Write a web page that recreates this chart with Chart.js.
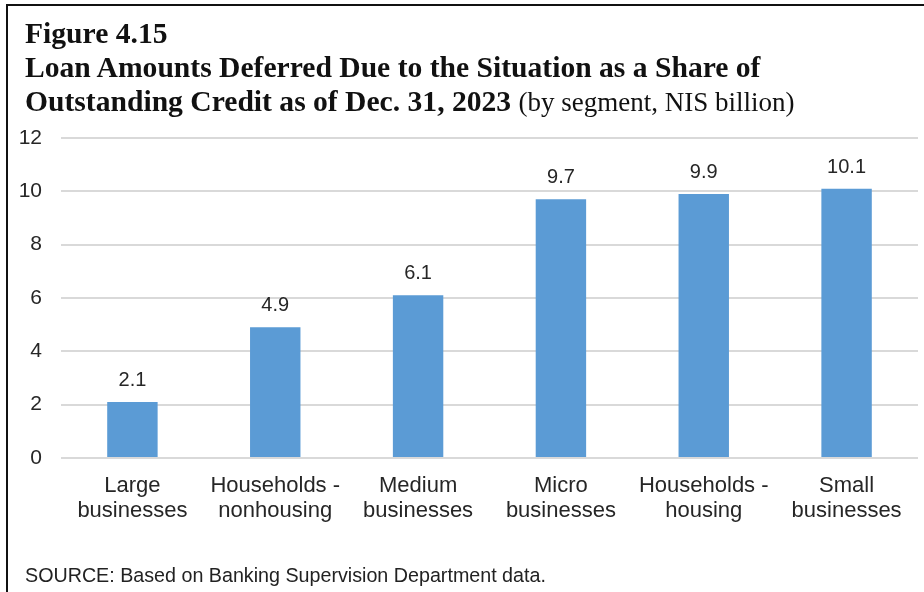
<!DOCTYPE html>
<html>
<head>
<meta charset="utf-8">
<script src="https://cdn.jsdelivr.net/npm/chart.js@4.4.1/dist/chart.umd.min.js"></script>
<style>
  html, body { margin: 0; padding: 0; background: #fff; }
  #wrap { position: relative; width: 924px; height: 592px; overflow: hidden; }
  #frame { position: absolute; left: 6px; top: 4px; right: -4px; bottom: -4px;
           border-top: 2px solid #111; border-left: 2px solid #111; }
  #title { position: absolute; left: 25px; top: 16px; font-family: "Liberation Serif", "Times New Roman", serif;
           font-size: 29.6px; line-height: 34px; color: #111; font-weight: bold; white-space: nowrap; }
  #title .unit { font-weight: normal; font-size: 27px; }
  #source { position: absolute; left: 25px; top: 565px; font-family: "Liberation Sans", Arial, sans-serif;
            font-size: 19.7px; line-height: 20px; color: #222; white-space: nowrap; }
  #chart { position: absolute; left: 0; top: 0; }
</style>
</head>
<body>
<div id="wrap">
  <canvas id="chart" width="924" height="592"></canvas>
  <div id="frame"></div>
  <div id="title">
    Figure 4.15<br>
    Loan Amounts Deferred Due to the Situation as a Share of<br>
    Outstanding Credit as of Dec. 31, 2023 <span class="unit">(by segment, NIS billion)</span>
  </div>
  <div id="source">SOURCE: Based on Banking Supervision Department data.</div>
</div>
<script>
// segments, shown as two-line axis labels
const segments = [
  ['Large', 'businesses'],
  ['Households -', 'nonhousing'],
  ['Medium', 'businesses'],
  ['Micro', 'businesses'],
  ['Households -', 'housing'],
  ['Small', 'businesses']
];
// deferred amounts, NIS billion
const deferred = [2.1, 4.9, 6.1, 9.7, 9.9, 10.1];
const yTicks = [0, 2, 4, 6, 8, 10, 12];

const sans = '"Liberation Sans", Arial, sans-serif';

// writes each bar's value above it
const valueLabels = {
  id: 'valueLabels',
  afterDatasetsDraw(chart) {
    const ctx = chart.ctx;
    const meta = chart.getDatasetMeta(0);
    ctx.save();
    ctx.font = '20px ' + sans;
    ctx.fillStyle = '#262626';
    ctx.textAlign = 'center';
    ctx.textBaseline = 'alphabetic';
    meta.data.forEach((bar, i) => {
      ctx.fillText(deferred[i].toFixed(1), bar.x, bar.y - 16);
    });
    ctx.restore();
  }
};

document.addEventListener('DOMContentLoaded', function() {
  const ctx = document.getElementById('chart').getContext('2d');
  new Chart(ctx, {
    type: 'bar',
    data: {
      labels: segments,
      datasets: [{
        data: deferred,
        backgroundColor: '#5b9bd5',
        borderWidth: 0,
        barPercentage: 0.353,
        categoryPercentage: 1
      }]
    },
    options: {
      responsive: false,
      animation: false,
      layout: { padding: { top: 138, right: 6, left: 0, bottom: 0 } },
      plugins: { legend: { display: false }, tooltip: { enabled: false } },
      scales: {
        x: {
          grid: { display: false },
          border: { display: false },
          ticks: { color: '#262626', font: { family: sans, size: 22, lineHeight: 1.11 }, padding: 8, maxRotation: 0, autoSkip: false },
          afterFit(scale) { scale.height = 134; }
        },
        y: {
          min: 0,
          max: 12,
          afterBuildTicks(scale) { scale.ticks = yTicks.map(v => ({ value: v })); },
          grid: { color: '#d9d9d9', lineWidth: 2, drawTicks: false },
          border: { display: false },
          ticks: { color: '#262626', font: { family: sans, size: 21 }, padding: 19 },
          afterFit(scale) { scale.width = 61; }
        }
      }
    },
    plugins: [valueLabels]
  });
});
</script>
</body>
</html>
